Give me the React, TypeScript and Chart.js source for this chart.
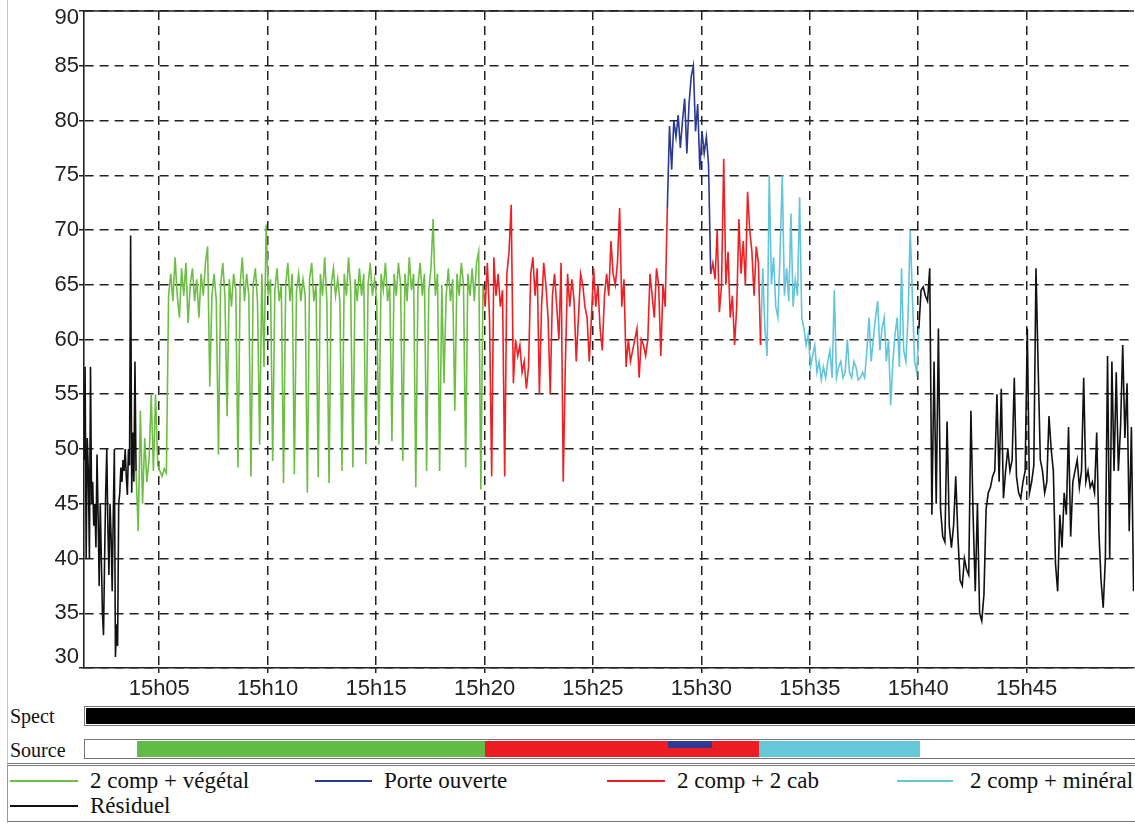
import React, { useEffect, useRef } from "react";
import { Chart, registerables } from "chart.js";

Chart.register(...registerables);

// ---- time axis (minutes after 15h00) ----
const xMin = 1.53;
const xMax = 49.95;
const xTickStep = 5;
const yTickValues = [30, 35, 40, 45, 50, 55, 60, 65, 70, 75, 80, 85, 90];

// ---- series: start minute, sampling step (min), values (dB) ----
const residuelStart1 = 1.53;
const residuelStep1 = 0.05;
const residuelValues1 = [
  49, 57.5, 40, 51, 48, 40, 57.5, 45, 47, 43,
  45, 41, 49.5, 44, 37.5, 45, 40, 35, 33, 40,
  46, 50, 43, 38.5, 45, 42, 37, 44, 50, 31,
  34, 32, 45, 46, 48.3, 47, 49, 48, 50, 47.5,
  45.8, 50, 48.5, 69.5, 46, 51.5, 47, 58, 48,
];

const vegetalStart = 3.93;
const vegetalStep = 0.1;
const vegetalValues = [
  48, 42.5, 53.5, 45, 51, 47, 49, 55, 48, 55,
  48.5, 48, 47.5, 48.2, 47.8, 64, 66, 63.5, 67.5, 64,
  62, 66.5, 64, 67, 61.5, 65, 66.5, 63.5, 65.5, 62,
  66, 64, 67, 68.5, 55.7, 64, 66, 63.5, 49.5, 65,
  67, 64, 53, 65.5, 63, 66, 64.5, 48.3, 65, 67.5,
  63.5, 66, 64, 47.5, 65, 66.5, 63.5, 50.4, 66, 57.5,
  70.5, 64, 65.5, 48.9, 64.5, 66.5, 63.5, 65, 46.9, 65,
  67, 63.5, 66, 47.7, 64.5, 66, 63.5, 65.5, 64, 46,
  65.5, 67, 63.5, 65, 47.4, 66, 64, 67.5, 63.5, 46.9,
  65, 66.5, 64, 65.5, 63.5, 48, 66, 64, 67.5, 64.5,
  48.3, 65.5, 63.5, 66.5, 64, 66, 48.6, 65, 67, 64,
  65.5, 63.5, 50.4, 66, 64.5, 67, 63.5, 65, 50.7, 66,
  64, 67, 65, 48.9, 66, 63.5, 67.5, 64.5, 66, 46.5,
  65, 67, 64, 66, 48, 64.5, 66.5, 71, 64, 66,
  48, 65, 56, 64, 66.5, 63.5, 65.5, 53.5, 66, 64,
  67, 65, 48.3, 66, 64, 66.5, 63.5, 67, 68, 46.3,
  65,
];

const cabStart1 = 19.93;
const cabStep = 0.1;
const cabValues1 = [
  65, 63, 67, 62, 47.5, 67.5, 64, 66, 63, 64.5,
  47.5, 66, 68, 72.3, 56, 60, 58.5, 59.5, 57, 58,
  55.5, 57.5, 66, 67.5, 64, 66.5, 55, 63, 67, 65,
  62, 55, 64, 66, 63, 60, 67, 47, 58, 66,
  63, 65.5, 63.5, 58, 62, 66, 65, 63, 62, 58,
  62, 66.5, 63, 65, 61, 59, 64, 66, 64, 69,
  66, 65, 67, 72, 63, 65.5, 57.5, 60, 58, 59,
  60, 61, 56.5, 60, 59.5, 58.5, 60, 66, 64, 62,
  66.5, 65, 58.5, 65, 63, 72,
];

const porteStart = 28.43;
const porteStep = 0.1;
const porteValues = [
  72, 79.5, 75.5, 80, 78.5, 80.5, 77.5, 80, 82, 77,
  81.5, 84, 85, 79, 81.5, 75.5, 79, 77, 78.5, 76,
  66,
];

const cabStart2 = 30.43;
const cabValues2 = [
  66, 67, 65.5, 70, 62.5, 65, 76.5, 65, 68, 62,
  64, 59.5, 63, 71, 66, 69, 65, 73.5, 70, 68,
  64, 68.5, 67, 59.5,
];

const mineralStart = 32.73;
const mineralStep = 0.1;
const mineralValues = [
  59.5, 66.5, 61, 58.5, 75, 65, 67.5, 63, 62, 68,
  75, 64, 66.5, 63.5, 71.5, 63, 65.5, 64, 73, 62,
  61, 59.5, 60.5, 57.5, 58.5, 59.5, 57, 58, 56.3, 57.5,
  56.5, 58, 59, 56.5, 64.5, 56.5, 57.5, 58, 56.5, 57,
  60, 57, 56.5, 58, 57.5, 56.3, 56.5, 57, 56.5, 59,
  62, 58, 60, 62, 63.5, 59, 61, 62, 58, 60,
  54, 58, 60.5, 62, 57.5, 66.5, 59, 58, 62, 70,
  64, 58, 57, 61,
];

const residuelStart2 = 40.03;
const residuelStep2 = 0.1;
const residuelValues2 = [
  61, 64.5, 64.8, 64, 63.5, 66.5, 44, 58, 45, 61,
  44.5, 42, 41.5, 52.5, 43, 41, 43, 47.5, 42, 38,
  37.5, 40, 39, 38.5, 53.5, 44, 37, 45, 35, 34.3,
  36.7, 44.5, 46, 46.5, 47.5, 48, 55, 47, 55.5, 45.5,
  48, 50, 48, 49, 56.5, 47.5, 46, 45.5, 47, 48,
  61, 46, 47, 48.5, 66.5, 57.5, 49, 48, 46, 47,
  53, 50, 48, 39.5, 37, 44, 41, 46, 44, 52,
  42, 47, 48, 49, 46.5, 48, 56.5, 47, 48, 46.5,
  47, 46, 51.5, 42.5, 38, 35.5, 40, 58.5, 40, 58,
  48, 57, 48, 52, 59.5, 51, 56, 42.5, 52, 37,
];

const COLORS = {
  vegetal: "#6DBE45",
  porte: "#2B3990",
  cab: "#EE2024",
  mineral: "#63C5DA",
  residuel: "#111111",
};

const legendItems = [
  { label: "2 comp + végétal", color: COLORS.vegetal, lineX: 10, lineW: 68, textX: 90, y: 781 },
  { label: "Porte ouverte", color: COLORS.porte, lineX: 315, lineW: 57, textX: 384, y: 781 },
  { label: "2 comp + 2 cab", color: COLORS.cab, lineX: 607, lineW: 58, textX: 677, y: 781 },
  { label: "2 comp + minéral", color: COLORS.mineral, lineX: 897, lineW: 56, textX: 970, y: 781 },
  { label: "Résiduel", color: COLORS.residuel, lineX: 10, lineW: 68, textX: 90, y: 806 },
];

// source band segments (minutes)
const sourceSegments = [
  { from: 3.97, to: 20.0, color: "#62BB46" },
  { from: 20.0, to: 32.68, color: "#ED1C24" },
  { from: 32.68, to: 40.1, color: "#67C8DA" },
];
const porteSegment = { from: 28.46, to: 30.5, color: "#2E3A94" };

function toPoints(start: number, step: number, values: number[]) {
  return values.map((v, i) => ({ x: +(start + i * step).toFixed(3), y: v }));
}

const SANS = "'Liberation Sans', Arial, sans-serif";
const SERIF = "'Liberation Serif', 'Times New Roman', serif";

const PLOT_LEFT = 84;
const PLOT_RIGHT = 1134;
const minuteToPx = (m: number) => PLOT_LEFT + ((m - xMin) / (xMax - xMin)) * (PLOT_RIGHT - PLOT_LEFT);

const framePlugin = {
  id: "frame",
  afterDraw(chart: any) {
    const { ctx, chartArea, scales } = chart;
    const { left, top, right, bottom } = chartArea;
    ctx.save();
    ctx.strokeStyle = "#222";
    ctx.lineWidth = 1.6;
    ctx.setLineDash([]);
    ctx.beginPath();
    ctx.moveTo(left, top);
    ctx.lineTo(right, top);
    ctx.stroke();
    ctx.fillStyle = "#222";
    ctx.font = `22px ${SANS}`;
    ctx.textAlign = "right";
    ctx.textBaseline = "middle";
    for (const v of yTickValues) {
      let py = scales.y.getPixelForValue(v);
      py = Math.min(Math.max(py, top + 7), bottom - 11);
      ctx.fillText(String(v), left - 5, py);
    }
    ctx.restore();
  },
};

export default function App() {
  const ref = useRef<HTMLCanvasElement>(null);

  useEffect(() => {
    const canvas = ref.current;
    if (!canvas) return;
    const ds = (data: any[], color: string) => ({
      data,
      borderColor: color,
      backgroundColor: color,
      borderWidth: 1.6,
      pointRadius: 0,
      tension: 0,
      fill: false,
    });
    const chart = new Chart(canvas, {
      type: "line",
      data: {
        datasets: [
          ds(toPoints(residuelStart1, residuelStep1, residuelValues1), COLORS.residuel),
          ds(toPoints(residuelStart2, residuelStep2, residuelValues2), COLORS.residuel),
          ds(toPoints(vegetalStart, vegetalStep, vegetalValues), COLORS.vegetal),
          ds(toPoints(cabStart1, cabStep, cabValues1), COLORS.cab),
          ds(toPoints(cabStart2, cabStep, cabValues2), COLORS.cab),
          ds(toPoints(porteStart, porteStep, porteValues), COLORS.porte),
          ds(toPoints(mineralStart, mineralStep, mineralValues), COLORS.mineral),
        ] as any,
      },
      options: {
        responsive: false,
        animation: false,
        events: [],
        layout: { padding: { top: 11, right: 1, left: 0, bottom: 0 } },
        plugins: { legend: { display: false }, tooltip: { enabled: false } },
        scales: {
          x: {
            type: "linear",
            min: xMin,
            max: xMax,
            afterFit: (s: any) => {
              s.height = 32;
            },
            ticks: {
              stepSize: xTickStep,
              includeBounds: false,
              autoSkip: false,
              maxRotation: 0,
              color: "#222",
              font: { size: 22, family: SANS },
              padding: 3,
              callback: (v: any) => "15h" + String(v).padStart(2, "0"),
            },
            grid: { color: "#222", lineWidth: 1.5, tickLength: 5 },
            border: { display: true, color: "#222", width: 1.6, dash: [9, 6] },
          },
          y: {
            min: 30,
            max: 90,
            afterFit: (s: any) => {
              s.width = PLOT_LEFT;
            },
            ticks: { stepSize: 5, display: false, maxTicksLimit: 20 },
            grid: { color: "#222", lineWidth: 1.5, tickLength: 5 },
            border: { display: true, color: "#222", width: 1.6, dash: [9, 6] },
          },
        },
      } as any,
      plugins: [framePlugin],
    });
    return () => chart.destroy();
  }, []);

  return (
    <div
      style={{
        position: "absolute",
        left: 0,
        top: 0,
        width: 1135,
        height: 823,
        background: "#fff",
        overflow: "hidden",
      }}
    >
      <div style={{ position: "absolute", left: 7, top: 0, width: 1, height: 764, background: "#c8c8c8" }} />
      <canvas
        ref={ref}
        width={1135}
        height={700}
        style={{ position: "absolute", left: 0, top: 0, width: 1135, height: 700 }}
      />

      {/* Spect band */}
      <div
        style={{
          position: "absolute",
          left: 10,
          top: 704,
          height: 24,
          lineHeight: "24px",
          fontFamily: SERIF,
          fontSize: 20,
          color: "#111",
        }}
      >
        Spect
      </div>
      <div
        style={{
          position: "absolute",
          left: 84,
          top: 706,
          width: 1060,
          height: 16,
          border: "1px solid #777",
          padding: 1,
          background: "#fff",
        }}
      >
        <div style={{ width: "100%", height: "100%", background: "#000" }} />
      </div>

      {/* Source band */}
      <div
        style={{
          position: "absolute",
          left: 10,
          top: 738,
          height: 24,
          lineHeight: "24px",
          fontFamily: SERIF,
          fontSize: 20,
          color: "#111",
        }}
      >
        Source
      </div>
      <div
        style={{
          position: "absolute",
          left: 84,
          top: 739,
          width: 1060,
          height: 16,
          border: "1px solid #777",
          padding: 1,
          background: "#fff",
        }}
      />
      {sourceSegments.map((s, i) => (
        <div
          key={i}
          style={{
            position: "absolute",
            left: minuteToPx(s.from),
            top: 741,
            width: minuteToPx(s.to) - minuteToPx(s.from),
            height: 16,
            background: s.color,
          }}
        />
      ))}
      <div
        style={{
          position: "absolute",
          left: minuteToPx(porteSegment.from),
          top: 741,
          width: minuteToPx(porteSegment.to) - minuteToPx(porteSegment.from),
          height: 7,
          background: porteSegment.color,
        }}
      />

      {/* Legend box */}
      <div
        style={{
          position: "absolute",
          left: 7,
          top: 763,
          width: 1140,
          height: 55,
          borderTop: "3px double #777",
          borderBottom: "3px double #777",
          borderLeft: "1px solid #999",
        }}
      />
      {legendItems.map((it) => (
        <React.Fragment key={it.label}>
          <div
            style={{
              position: "absolute",
              left: it.lineX,
              top: it.y - 1,
              width: it.lineW,
              height: 1.5,
              background: it.color,
            }}
          />
          <div
            style={{
              position: "absolute",
              left: it.textX,
              top: it.y - 14,
              height: 28,
              lineHeight: "28px",
              fontFamily: SERIF,
              fontSize: 23,
              color: "#111",
              whiteSpace: "nowrap",
            }}
          >
            {it.label}
          </div>
        </React.Fragment>
      ))}
    </div>
  );
}
